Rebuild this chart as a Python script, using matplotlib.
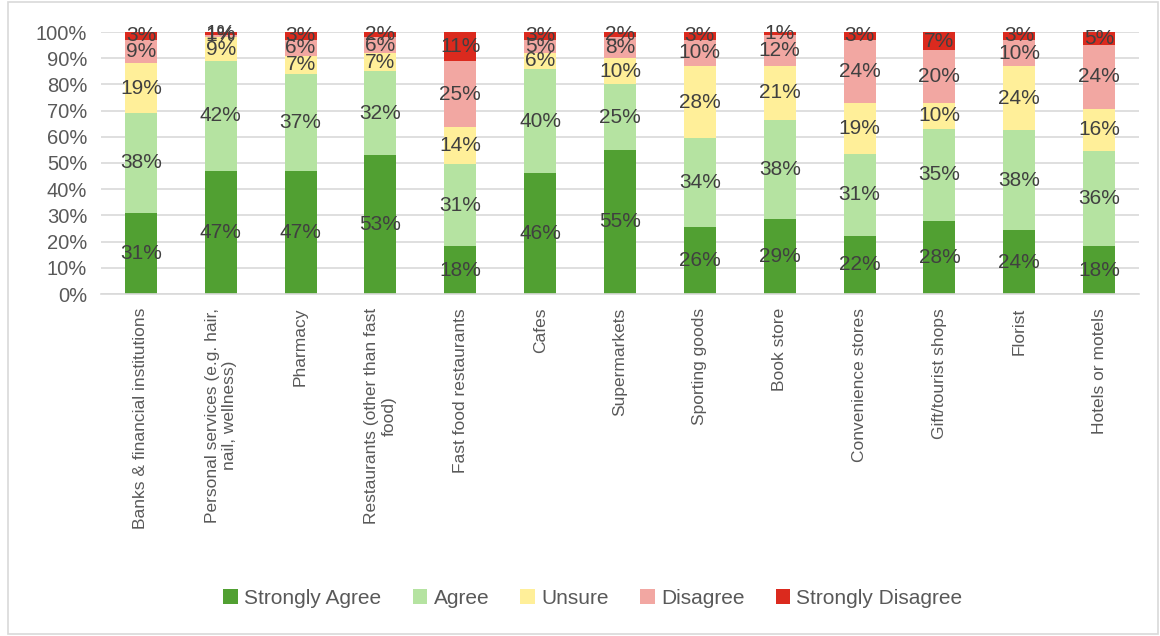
import numpy as np
import matplotlib.pyplot as plt
from matplotlib.patches import Rectangle

plt.rcParams['font.family'] = ['Liberation Sans', 'DejaVu Sans']

categories = [
    "Banks & financial institutions",
    "Personal services (e.g. hair,\nnail, wellness)",
    "Pharmacy",
    "Restaurants (other than fast\nfood)",
    "Fast food restaurants",
    "Cafes",
    "Supermarkets",
    "Sporting goods",
    "Book store",
    "Convenience stores",
    "Gift/tourist shops",
    "Florist",
    "Hotels or motels",
]
strongly_agree = [31, 47, 47, 53, 18, 46, 55, 26, 29, 22, 28, 24, 18]
agree = [38, 42, 37, 32, 31, 40, 25, 34, 38, 31, 35, 38, 36]
unsure = [19, 9, 7, 7, 14, 6, 10, 28, 21, 19, 10, 24, 16]
disagree = [9, 1, 6, 6, 25, 5, 8, 10, 12, 24, 20, 10, 24]
strongly_disagree = [3, 1, 3, 2, 11, 3, 2, 3, 1, 3, 7, 3, 5]

series = [
    ("Strongly Agree", strongly_agree, "#51A032"),
    ("Agree", agree, "#B5E3A1"),
    ("Unsure", unsure, "#FFEF99"),
    ("Disagree", disagree, "#F2A7A2"),
    ("Strongly Disagree", strongly_disagree, "#DB2A1E"),
]

fig = plt.figure(figsize=(11.6, 6.36), dpi=100)
ax = fig.add_axes([101 / 1160, 1 - 294 / 636, 1038 / 1160, 262 / 636])

x = np.arange(len(categories))
raw = np.array([s[1] for s in series], dtype=float)
totals = raw.sum(axis=0)
bottom = np.zeros(len(categories))
for name, vals, color in series:
    frac = np.array(vals, dtype=float) / totals
    ax.bar(x, frac, 0.4, bottom=bottom, color=color, label=name, zorder=2)
    for xi, b, f, v in zip(x, bottom, frac, vals):
        ax.text(xi, b + f / 2, f"{v}%", ha="center", va="center",
                fontsize=15, color="#404040", zorder=3)
    bottom += frac

ax.set_xlim(-0.5, len(categories) - 0.5)
ax.set_ylim(0, 1)
ticks = np.arange(0, 1.01, 0.1)
ax.set_yticks(ticks)
ax.set_yticklabels([f"{int(round(t * 100))}%" for t in ticks])
ax.yaxis.grid(True, color="#D9D9D9", linewidth=1.2, zorder=0)
ax.set_axisbelow(True)
for s in ["top", "right", "left"]:
    ax.spines[s].set_visible(False)
ax.spines["bottom"].set_color("#D9D9D9")
ax.spines["bottom"].set_linewidth(1.2)
ax.tick_params(axis="y", length=0, labelsize=14.5, labelcolor="#595959", pad=10)
ax.tick_params(axis="x", length=0, labelsize=12.5, labelcolor="#595959", pad=10)
ax.set_xticks(x)
ax.set_xticklabels(categories, rotation=90, va="top", ha="center", multialignment="center")

ax.legend(loc="center", bbox_to_anchor=(593 / 1160, 1 - 598 / 636),
          bbox_transform=fig.transFigure, ncol=5, frameon=False,
          fontsize=15, handlelength=0.7, handleheight=0.7, handletextpad=0.3,
          columnspacing=1.5, labelcolor="#595959")

fig.patches.append(Rectangle((8 / 1160, 2 / 636), 1150 / 1160, 632 / 636,
                             transform=fig.transFigure, fill=False,
                             edgecolor="#D9D9D9", linewidth=1.2))

fig.savefig("out.png", dpi=100)
